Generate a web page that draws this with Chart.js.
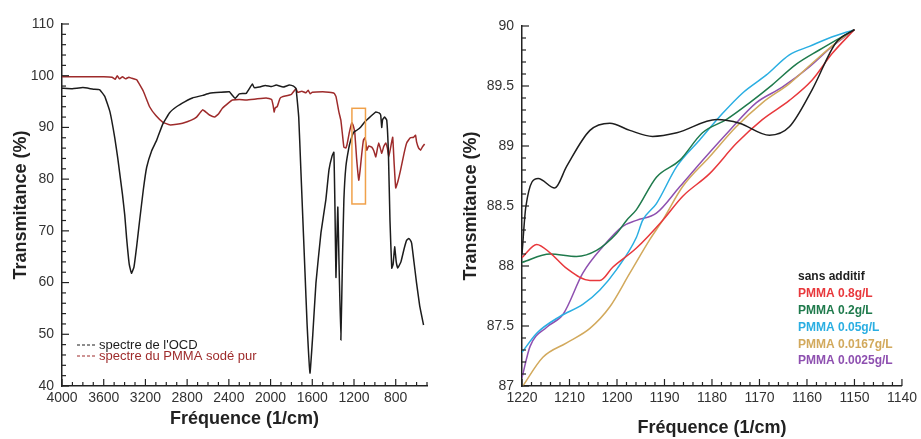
<!DOCTYPE html>
<html>
<head>
<meta charset="utf-8">
<script src="https://cdn.jsdelivr.net/npm/chart.js@4.4.0/dist/chart.umd.min.js"></script>
<style>
  body { margin: 0; background: #fff; }
  #wrap { position: relative; width: 921px; height: 439px; }
  #spectre-large { position: absolute; left: 0; top: 0; }
  #spectre-zoom { position: absolute; left: 450px; top: 0; }
</style>
</head>
<body>
<div id="wrap">
  <canvas id="spectre-large" width="450" height="439"></canvas>
  <canvas id="spectre-zoom" width="471" height="439"></canvas>
</div>
<script>
// --- spectre complet (gauche) ---
const ocdFreq = [4000, 3900, 3800, 3700, 3640, 3590, 3540, 3494, 3465, 3420, 3398, 3380, 3355, 3334, 3310, 3284, 3255, 3220, 3188, 3140,
  3093, 3035, 2970, 2902, 2820, 2749, 2650, 2586, 2480, 2395, 2366, 2340, 2300, 2233, 2175, 2157, 2109, 2050, 1990, 1946,
  1880, 1820, 1780, 1756, 1730, 1710, 1698, 1670, 1650, 1622, 1595, 1565, 1517, 1470, 1440, 1410, 1393, 1383, 1373, 1362,
  1355, 1345, 1326, 1310, 1297, 1278, 1250, 1230, 1202, 1170, 1135, 1100, 1058, 1020, 991, 960, 944, 934, 926, 906,
  886, 870, 855, 838, 825, 810, 795, 781, 750, 720, 695, 676, 660, 647, 625, 600, 570, 533];
const ocdT = [97.6, 97.5, 97.7, 97.4, 97.3, 96, 93, 88, 84, 77, 73, 68.5, 63.5, 61.8, 63, 67, 72.1, 78, 82.3, 85.5,
  87.5, 90.6, 92.8, 94, 95, 95.7, 96.2, 96.6, 96.8, 96.9, 96.2, 95.6, 96.5, 96.6, 98.4, 97.7, 97.8, 98.1, 97.9, 98.2,
  97.8, 98.2, 98, 97.5, 92, 82, 76, 62, 52, 42.5, 50, 59.9, 69.6, 76, 81.8, 84.5, 85.2, 75, 61, 70,
  74.6, 65, 48.9, 65, 76, 82.4, 86, 87.6, 89.1, 89.5, 90.1, 91, 91.8, 92.5, 93, 92.8, 92.4, 90, 91.5, 92,
  91.4, 85, 72, 62.8, 63.5, 66.9, 64, 62.8, 64, 66.5, 68.2, 68.5, 68.2, 67.6, 64, 59.9, 55.5, 51.8];

const pmmaFreq = [4000, 3600, 3520, 3490, 3470, 3450, 3420, 3390, 3360, 3330, 3284, 3220, 3160, 3100, 3032, 2968, 2900, 2844, 2760, 2710, 2652,
  2610, 2586, 2537, 2500, 2462, 2400, 2366, 2300, 2233, 2140, 2042, 1990, 1975, 1966, 1955, 1937, 1910, 1889, 1800, 1756,
  1740, 1700, 1660, 1640, 1620, 1600, 1500, 1440, 1390, 1373, 1345, 1326, 1310, 1297, 1280, 1268, 1245, 1220, 1205, 1192,
  1175, 1154, 1140, 1125, 1110, 1096, 1086, 1077, 1060, 1030, 1010, 991, 975, 963, 948, 934, 915, 896, 880, 867,
  850, 829, 815, 800, 780, 753, 720, 695, 660, 628, 610, 600, 580, 561, 545, 523];
const pmmaT = [99.8, 99.8, 99.7, 99.3, 100, 99.4, 99.8, 99.4, 99.7, 99.5, 99.2, 97, 94, 92.3, 91, 90.5, 90.6, 90.8, 91.4, 92, 93.4,
  92.8, 92.4, 92, 92.6, 93.7, 94.8, 95.3, 95.4, 95.3, 95.5, 95.7, 95.4, 94.2, 93, 93.8, 94, 95.6, 95.9, 96.4, 97.5,
  96.8, 97, 96.7, 97.2, 96.5, 96.8, 96.9, 96.8, 96.6, 96, 93, 91.4, 88.5, 86.2, 86, 86.6, 89, 90.9, 90.2, 88.9,
  84, 79.8, 82, 85, 87.5, 88, 87, 85.6, 86.4, 86.2, 85.5, 84.3, 86, 87, 86, 85, 86.3, 87, 86, 84.3,
  86, 88.1, 83, 78.3, 79.5, 81.8, 85, 87, 88, 88.1, 88.5, 87.2, 86, 85.6, 86.2, 86.8];

const leftLabels = ["spectre de l'OCD", 'spectre du PMMA sodé pur'];
const leftColors = ['#1c1c1c', '#9e2b2b'];
// zone agrandie a droite
const boxFreq = [1220, 1090];
const boxT = [93.7, 75.2];

// --- zoom 1220-1140 (droite) ---
const sansFreq = [1220, 1219.2, 1216.6, 1213.1, 1210.6, 1205.7, 1201.5, 1197.3, 1192.5, 1187.4, 1179, 1174.2, 1167.9, 1163.7, 1158.9, 1153.9, 1150];
const sansT = [88.1, 88.49, 88.73, 88.65, 88.83, 89.13, 89.19, 89.13, 89.08, 89.11, 89.22, 89.19, 89.09, 89.16, 89.47, 89.86, 89.97];

const p08Freq = [1220, 1216.9, 1214.1, 1210.6, 1205.7, 1203.6, 1200.9, 1195.9, 1190.4, 1186.2, 1180.5, 1174.9, 1169.4, 1163.7, 1158.9, 1154.7, 1150];
const p08T = [88.07, 88.18, 88.11, 87.98, 87.88, 87.88, 87.99, 88.15, 88.38, 88.58, 88.77, 89.02, 89.22, 89.38, 89.55, 89.77, 89.97];

const p02Freq = [1220, 1214.1, 1208.5, 1204.3, 1200.1, 1198, 1195.9, 1191.7, 1186.8, 1182, 1177, 1172.1, 1167.3, 1162.3, 1157.4, 1150];
const p02T = [88.03, 88.1, 88.08, 88.13, 88.27, 88.38, 88.47, 88.74, 88.88, 89.11, 89.22, 89.36, 89.51, 89.68, 89.8, 89.97];

const p005Freq = [1220, 1216.9, 1212, 1207.2, 1203.6, 1200.1, 1195.9, 1194.6, 1191.7, 1187.4, 1182.6, 1177.8, 1173.6, 1168.6, 1163.7, 1159.5, 1155.3, 1150];
const p005T = [87.28, 87.44, 87.58, 87.68, 87.8, 87.97, 88.24, 88.38, 88.52, 88.83, 89.05, 89.27, 89.44, 89.59, 89.76, 89.83, 89.9, 89.97];

const p0167Freq = [1220, 1215.6, 1210.6, 1205.7, 1201.5, 1197.3, 1193.1, 1190.4, 1186.2, 1180.5, 1174.9, 1169.4, 1163.7, 1158.9, 1153.9, 1150];
const p0167T = [86.99, 87.24, 87.36, 87.48, 87.66, 87.94, 88.22, 88.38, 88.66, 88.91, 89.16, 89.36, 89.52, 89.69, 89.86, 89.97];

const p0025Freq = [1220, 1218.3, 1214.8, 1211.3, 1207.2, 1203, 1198.8, 1195.9, 1191.7, 1186.8, 1182, 1176.3, 1170.7, 1165.2, 1159.5, 1154.7, 1150];
const p0025T = [87.07, 87.33, 87.49, 87.6, 87.94, 88.16, 88.33, 88.38, 88.44, 88.66, 88.88, 89.13, 89.36, 89.49, 89.66, 89.83, 89.97];

const rightLabels = ['sans additif', 'PMMA 0.8g/L', 'PMMA 0.2g/L', 'PMMA 0.05g/L', 'PMMA 0.0167g/L', 'PMMA 0.0025g/L'];
const rightColors = ['#1e1e1e', '#e8383c', '#1f7a4c', '#2aaee2', '#d2a95c', '#8e50b0'];

Chart.defaults.font.family = '"Liberation Sans", Arial, sans-serif';
Chart.defaults.color = '#333';

function pts(xs, ys) {
  return xs.map(function(x, i) { return { x: x, y: ys[i] }; });
}

// petits traits vers l'interieur sur les axes
function makeTicks(majorFns) {
  return {
    id: 'inwardTicks',
    afterDraw(chart) {
      const ctx = chart.ctx;
      const area = chart.chartArea;
      ctx.save();
      ctx.strokeStyle = '#222';
      ctx.lineWidth = 1.2;
      Object.values(chart.scales).forEach(function(scale) {
        const isMajor = majorFns[scale.id];
        scale.ticks.forEach(function(t) {
          const len = isMajor(t.value) ? 7 : 4;
          const p = scale.getPixelForValue(t.value);
          ctx.beginPath();
          if (scale.isHorizontal()) {
            ctx.moveTo(p, area.bottom);
            ctx.lineTo(p, area.bottom - len);
          } else {
            ctx.moveTo(area.left, p);
            ctx.lineTo(area.left + len, p);
          }
          ctx.stroke();
        });
      });
      ctx.restore();
    }
  };
}

const majLeftX = function(v) { return v % 400 === 0; };
const majLeftY = function(v) { return v % 10 === 0; };
const majRightX = function(v) { return Math.round(v) % 10 === 0; };
const majRightY = function(v) { return Math.round(v * 10) % 5 === 0; };

const boxPlugin = {
  id: 'boxPlugin',
  afterDatasetsDraw(chart) {
    const ctx = chart.ctx;
    const x = chart.scales.x, y = chart.scales.y;
    const x1 = x.getPixelForValue(boxFreq[0]), x2 = x.getPixelForValue(boxFreq[1]);
    const y1 = y.getPixelForValue(boxT[0]), y2 = y.getPixelForValue(boxT[1]);
    ctx.save();
    ctx.strokeStyle = '#f0a14a';
    ctx.lineWidth = 1.5;
    ctx.strokeRect(x1, y1, x2 - x1, y2 - y1);
    ctx.restore();
  }
};

const leftLegend = {
  id: 'leftLegend',
  afterDraw(chart) {
    const ctx = chart.ctx;
    ctx.save();
    ctx.font = '13px "Liberation Sans", Arial, sans-serif';
    ctx.textBaseline = 'middle';
    leftLabels.forEach(function(txt, i) {
      const yy = 345 + i * 11;
      ctx.strokeStyle = leftColors[i];
      ctx.lineWidth = 1.2;
      ctx.setLineDash([3, 2]);
      ctx.beginPath();
      ctx.moveTo(77, yy);
      ctx.lineTo(96, yy);
      ctx.stroke();
      ctx.fillStyle = leftColors[i];
      ctx.fillText(txt, 99, yy);
    });
    ctx.restore();
  }
};

const rightLegend = {
  id: 'rightLegend',
  afterDraw(chart) {
    const ctx = chart.ctx;
    ctx.save();
    ctx.font = 'bold 12px "Liberation Sans", Arial, sans-serif';
    ctx.textBaseline = 'middle';
    rightLabels.forEach(function(txt, i) {
      ctx.fillStyle = rightColors[i];
      ctx.fillText(txt, 348, 277 + i * 16.8);
    });
    ctx.restore();
  }
};

function axisX(min, max, step, isMajor, height) {
  return {
    type: 'linear', reverse: true, min: min, max: max,
    ticks: {
      stepSize: step, autoSkip: false, maxRotation: 0, minRotation: 0, padding: 4,
      font: { size: 14 }, color: '#333',
      callback: function(v) { return isMajor(v) ? String(Math.round(v)) : ''; }
    },
    grid: { display: false, drawTicks: false },
    border: { color: '#222', width: 1.5 },
    title: { display: true, text: 'Fréquence (1/cm)', font: { size: 18, weight: 'bold' }, color: '#222', padding: { top: 2, bottom: 0 } },
    afterFit: function(s) { s.height = height; }
  };
}

function axisY(min, max, step, isMajor, width, fmt) {
  return {
    min: min, max: max,
    ticks: {
      stepSize: step, autoSkip: false, padding: 8,
      font: { size: 14 }, color: '#333',
      callback: function(v) { return isMajor(v) ? fmt(v) : ''; }
    },
    grid: { display: false, drawTicks: false },
    border: { color: '#222', width: 1.5 },
    title: { display: true, text: 'Transmitance (%)', font: { size: 18, weight: 'bold' }, color: '#222', padding: { top: 10, bottom: 0 } },
    afterFit: function(s) { s.width = width; }
  };
}

new Chart(document.getElementById('spectre-large'), {
  type: 'line',
  data: {
    datasets: [
      { label: leftLabels[0], data: pts(ocdFreq, ocdT), borderColor: leftColors[0], borderWidth: 1.5, pointRadius: 0, tension: 0.1 },
      { label: leftLabels[1], data: pts(pmmaFreq, pmmaT), borderColor: leftColors[1], borderWidth: 1.5, pointRadius: 0, tension: 0.1 }
    ]
  },
  options: {
    responsive: false,
    animation: false,
    layout: { padding: { top: 24, right: 23, left: 0, bottom: 9 } },
    plugins: { legend: { display: false }, tooltip: { enabled: false } },
    scales: {
      x: axisX(500, 4000, 100, majLeftX, 44),
      y: axisY(40, 110, 2, majLeftY, 62, function(v) { return String(v); })
    }
  },
  plugins: [makeTicks({ x: majLeftX, y: majLeftY }), boxPlugin, leftLegend]
});

const rightSeries = [[sansFreq, sansT], [p08Freq, p08T], [p02Freq, p02T], [p005Freq, p005T], [p0167Freq, p0167T], [p0025Freq, p0025T]];

new Chart(document.getElementById('spectre-zoom'), {
  type: 'line',
  data: {
    datasets: rightSeries.map(function(s, i) {
      return { label: rightLabels[i], data: pts(s[0], s[1]), borderColor: rightColors[i], borderWidth: 1.5, pointRadius: 0, cubicInterpolationMode: 'monotone' };
    })
  },
  options: {
    responsive: false,
    animation: false,
    layout: { padding: { top: 26, right: 18, left: 0, bottom: 0 } },
    plugins: { legend: { display: false }, tooltip: { enabled: false } },
    scales: {
      x: axisX(1140, 1220, 2, majRightX, 53),
      y: axisY(87, 90, 0.1, majRightY, 72, function(v) { return String(Math.round(v * 10) / 10); })
    }
  },
  plugins: [makeTicks({ x: majRightX, y: majRightY }), rightLegend]
});
</script>
</body>
</html>
